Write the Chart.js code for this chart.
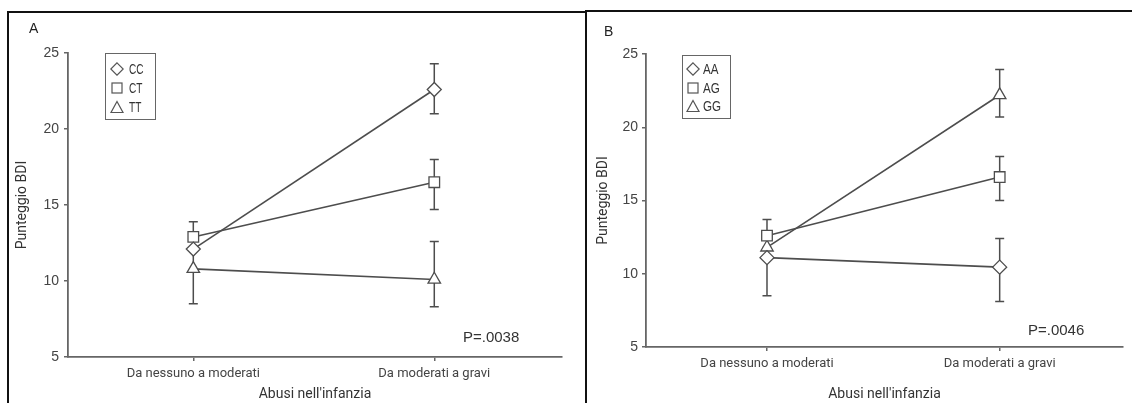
<!DOCTYPE html>
<html>
  <head>
    <meta charset="utf-8">
    <title>Punteggio BDI e abusi nell'infanzia</title>
    <script src="https://cdn.jsdelivr.net/npm/chart.js"></script>
    <style>
      body { margin: 0; background: #fff; width: 1132px; height: 403px; overflow: hidden; position: relative; }
      .panel { position: absolute; border-left: 2px solid #111; border-top: 2px solid #111; box-sizing: border-box; }
      .wrap { position: absolute; }
      .txt { font-family: 'Liberation Sans', Arial, sans-serif; color: #333; position: absolute; white-space: nowrap; }
      .legend { position: absolute; border: 1.5px solid #666; box-sizing: border-box; background: #fff; }
      .row { position: absolute; height: 18px; line-height: 18px; font-size: 14px; }
      .row svg { position: absolute; top: 2px; }
      .row span { position: absolute; transform-origin: left center; }
    </style>
  </head>
  <body>
    <div class="panel" style="left:7px; top:11px; width:580px; height:400px;"></div>
    <div class="panel" style="left:585px; top:10px; width:560px; height:400px;"></div>

    <div class="wrap" style="left:9px; top:13px; width:576px; height:390px;"><canvas id="chartA"></canvas></div>
    <div class="wrap" style="left:587px; top:12px; width:545px; height:391px;"><canvas id="chartB"></canvas></div>

    <div class="txt" style="left:29px; top:20px; font-size:14px; color:#222;">A</div>
    <div class="txt" style="left:604px; top:23px; font-size:14px; color:#222;">B</div>

    <div class="txt" id="pA" style="left:463px; top:328px; font-size:15px;"></div>
    <div class="txt" id="pB" style="left:1028px; top:321px; font-size:15px;"></div>

    <div class="legend" id="legA" style="left:105px; top:53px; width:51px; height:67px;"></div>
    <div class="legend" id="legB" style="left:682px; top:55px; width:49px; height:64px;"></div>

    <script>
      // categorie sull'asse x
      const categories = ['Da nessuno a moderati', 'Da moderati a gravi'];

      // Pannello A
      const seriesA = ['CC', 'CT', 'TT'];
      const ccA = [12.1, 22.6];
      const ctA = [12.9, 16.5];
      const ttA = [10.8, 10.1];
      const ccAHi = [null, 24.3], ccALo = [null, 21.0];
      const ctAHi = [13.9, 18.0], ctALo = [null, 14.7];
      const ttAHi = [12.9, 12.6], ttALo = [8.5, 8.3];
      const pValueA = 'P=.0038';

      // Pannello B
      const seriesB = ['AA', 'AG', 'GG'];
      const aaB = [11.1, 10.45];
      const agB = [12.6, 16.6];
      const ggB = [11.8, 22.2];
      const aaBHi = [11.8, 12.4], aaBLo = [8.5, 8.1];
      const agBHi = [13.7, 18.0], agBLo = [null, 15.0];
      const ggBHi = [null, 23.95], ggBLo = [null, 20.7];
      const pValueB = 'P=.0046';

      const yTicks = [5, 10, 15, 20, 25];
      const styles = ['rectRot', 'rect', 'triangle'];
      const radii = [7, 7.5, 7.2];
      const ink = '#4d4d4d';

      const errorBars = {
        id: 'errorBars',
        beforeDatasetsDraw(chart) {
          const ctx = chart.ctx;
          const x = chart.scales.x, y = chart.scales.y;
          ctx.save();
          ctx.strokeStyle = ink;
          ctx.lineWidth = 1.5;
          chart.data.datasets.forEach(ds => {
            ds.data.forEach((p, i) => {
              const px = x.getPixelForValue(p.x);
              const py = y.getPixelForValue(p.y);
              [ds.hi[i], ds.lo[i]].forEach(e => {
                if (e === null) return;
                const pe = y.getPixelForValue(e);
                ctx.beginPath();
                ctx.moveTo(px, py); ctx.lineTo(px, pe);
                ctx.moveTo(px - 4.5, pe); ctx.lineTo(px + 4.5, pe);
                ctx.stroke();
              });
            });
          });
          ctx.restore();
        }
      };

      function makeChart(id, names, values, his, los, opt) {
        const datasets = names.map((n, k) => ({
          label: n,
          data: values[k].map((v, i) => ({ x: i, y: v })),
          hi: his[k],
          lo: los[k],
          borderColor: ink,
          borderWidth: 1.6,
          pointStyle: styles[k],
          pointRadius: radii[k],
          pointHoverRadius: radii[k],
          pointBackgroundColor: '#fff',
          pointBorderColor: ink,
          pointBorderWidth: 1.3,
          tension: 0
        }));
        const tickFont = { family: "'Liberation Sans', Arial, sans-serif", size: 14 };
        const grid = { display: true, drawOnChartArea: false, drawTicks: true, tickLength: 4, color: '#666', lineWidth: 1.5 };
        const border = { display: true, color: '#666', width: 1.8 };
        new Chart(document.getElementById(id), {
          type: 'line',
          data: { labels: categories, datasets: datasets },
          options: {
            responsive: true,
            maintainAspectRatio: false,
            animation: false,
            events: [],
            layout: { padding: { left: 0, right: opt.padRight, top: opt.padTop, bottom: 0 } },
            plugins: { legend: { display: false }, tooltip: { enabled: false } },
            scales: {
              x: {
                type: 'linear',
                min: -0.52,
                max: 1.53,
                grid: grid,
                border: border,
                afterBuildTicks(scale) { scale.ticks = [{ value: 0 }, { value: 1 }]; },
                afterFit(scale) { scale.height = opt.xHeight; },
                ticks: {
                  callback: v => categories[v],
                  color: '#444',
                  padding: 5,
                  maxRotation: 0,
                  font: { family: 'Roboto', size: 13 }
                },
                title: {
                  display: true,
                  text: "Abusi nell'infanzia",
                  color: '#333',
                  font: { family: 'Roboto', size: 14 },
                  padding: { top: 0, bottom: 0 }
                }
              },
              y: {
                min: 5,
                max: 25,
                grid: grid,
                border: border,
                afterBuildTicks(scale) { scale.ticks = yTicks.map(v => ({ value: v })); },
                afterFit(scale) { scale.width = 59; },
                ticks: { color: '#444', padding: opt.yPad, font: tickFont },
                title: {
                  display: true,
                  text: 'Punteggio BDI',
                  color: '#333',
                  font: { family: 'Roboto', size: 14 },
                  padding: { top: opt.titleTop, bottom: 0 }
                }
              }
            }
          },
          plugins: [errorBars]
        });
      }

      function shape(style, left) {
        const s = '<svg width="14" height="14" viewBox="0 0 14 14" style="left:' + left + 'px">';
        const st = 'fill="#fff" stroke="#555" stroke-width="1.2"';
        if (style === 'rectRot') return s + '<polygon points="7,0.8 13.2,7 7,13.2 0.8,7" ' + st + '/></svg>';
        if (style === 'rect') return s + '<rect x="2" y="2" width="10" height="10" ' + st + '/></svg>';
        return s + '<polygon points="7,1.5 13,12.5 1,12.5" ' + st + '/></svg>';
      }

      function makeLegend(id, names, rowTops, shapeLeft, textLeft, squeeze) {
        const box = document.getElementById(id);
        box.innerHTML = names.map((n, k) =>
          '<div class="row txt" style="top:' + rowTops[k] + 'px; left:0; width:100%;">' + shape(styles[k], shapeLeft) +
          '<span style="left:' + textLeft + 'px; transform:scaleX(' + squeeze + ');">' + n + '</span></div>').join('');
      }

      makeChart('chartA', seriesA, [ccA, ctA, ttA], [ccAHi, ctAHi, ttAHi], [ccALo, ctALo, ttALo],
        { padRight: 23, padTop: 40, xHeight: 46, titleTop: 5, yPad: 5 });
      makeChart('chartB', seriesB, [aaB, agB, ggB], [aaBHi, agBHi, ggBHi], [aaBLo, agBLo, ggBLo],
        { padRight: 9, padTop: 42, xHeight: 56, titleTop: 8, yPad: 4 });

      makeLegend('legA', seriesA, [6, 25, 44], 4, 23, 0.72);
      makeLegend('legB', seriesB, [4, 23, 41], 3, 20, 0.83);
      document.getElementById('pA').textContent = pValueA;
      document.getElementById('pB').textContent = pValueB;
    </script>
  </body>
</html>
